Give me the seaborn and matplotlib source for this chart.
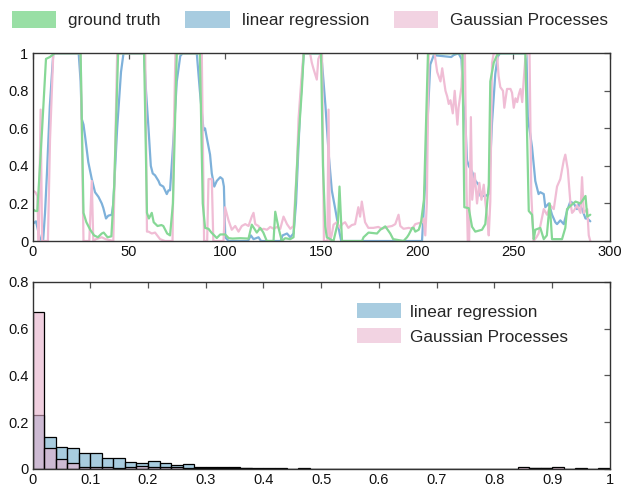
import numpy as np
import seaborn as sns
import matplotlib.pyplot as plt
from matplotlib.patches import Patch
from matplotlib.colors import to_rgba

# ground truth vs. predictions
gt_t = [0, 1.5, 2.5, 5, 7, 9, 11.5, 25, 26.5, 28, 30, 32, 34, 36, 37, 39, 41, 42.5, 44.5,
        58, 59.5, 60.5, 62, 63, 65, 67, 68, 70, 71.5, 73, 75, 87, 88.5, 89.7, 91.5, 93,
        95.8, 97.6, 100.2, 102, 104, 108, 112.3, 114, 116.6, 118.4, 120, 121.8, 125.3,
        126.2, 127.9, 129.6, 131.4, 134, 135.7, 138, 140, 141, 150, 151, 152.2, 153,
        156.5, 157.4, 158.8, 159.6, 160.9, 171.3, 172.1, 174.7, 179.1, 180.8, 183.4, 186,
        187.5, 192.9, 194.7, 195.6, 197.4, 198.1, 199, 200.8, 202, 203.5, 205.6, 223.5,
        224.5, 226.8, 228.5, 230.2, 233.7, 235.4, 237.2, 238, 239.8, 241.5, 243, 256.2,
        258, 259.7, 260.6, 261.4, 264, 265.8, 267.4, 268.9, 270.1, 275.3, 277, 277.9,
        280, 282.3, 284.9, 287.5, 288.4, 290]
gt_v = [0.17, 0.16, 0.16, 0.6, 0.97, 0.98, 1.0, 1.0, 0.15, 0.1, 0.06, 0.03, 0.02, 0.04,
        0.045, 0.02, 0.025, 0.3, 1.0,
        1.0, 0.15, 0.12, 0.15, 0.1, 0.08, 0.085, 0.08, 0.04, 0.03, 0.2, 1.0, 1.0, 0.2,
        0.07, 0.065, 0.045,
        0.016, 0.035, 0.035, 0.015, 0.013, 0.015, 0.013, 0.087, 0.045, 0.07, 0.045, 0.0,
        0.0,
        0.156, 0.07, 0.0, 0.015, 0.01, 0.02, 0.5, 0.8, 1.0, 1.0, 0.4, 0.076, 0.02,
        0.0, 0.04, 0.1, 0.29, 0.0, 0.0, 0.02, 0.045, 0.04, 0.06, 0.078, 0.04,
        0.01, 0.0, 0.02, 0.034, 0.07, 0.07, 0.05, 0.06, 0.1, 0.22, 1.0, 1.0,
        0.18, 0.175, 0.076, 0.05, 0.06, 0.09, 0.3, 0.85, 0.95, 0.99, 1.0, 1.0,
        0.16, 0.14, 0.01, 0.06, 0.07, 0.01, 0.03, 0.2, 0.01, 0.01, 0.07, 0.17,
        0.19, 0.21, 0.2, 0.24, 0.13, 0.14]

lr_t = [0, 1.8, 3, 4, 5.5, 6.5, 7.5, 9, 10.8, 24, 25, 25.6, 26.5, 27.3, 29, 30.8, 32.5,
        34.3, 36, 36.8, 38.2, 39.4, 41.2, 42, 44, 46, 47.3, 58, 59, 60.3, 61.5, 62.5,
        63.7, 65.5, 66.3, 68, 69.8, 70.7, 71.5, 73, 75, 76.8, 78, 85.4, 87, 88.9, 89.7,
        90.6, 92.3, 93.2, 94.5, 95.8, 97.6, 98.8, 99.5, 100.2, 101.9, 112, 113.5, 114.9,
        117.5, 118.8, 129, 130, 132.3, 134, 135.7, 137, 139.2, 141, 149.6, 150.5, 152.3,
        154, 155.6, 157.4, 159.1, 160.5, 202.5, 204.2, 205.2, 206.8, 208.6, 217.7, 218.9,
        221.5, 223, 224.1, 225, 225.9, 226.8, 228.5, 230.3, 232, 232.9, 235.5, 237.2,
        238.9, 240.6, 241.8, 243, 256.8, 257.5, 259.7, 261.4, 263.1, 264, 265.8, 266.6,
        268.4, 270.1, 271.8, 272.7, 274.4, 276.2, 277.9, 279.6, 281.4, 283.1, 284, 285.7,
        287.5, 288.4, 290]
lr_v = [0.09, 0.105, 0.05, 0.01, 0.0, 0.15, 0.36, 0.72, 1.0, 1.0, 0.85, 0.65, 0.62, 0.56,
        0.42, 0.33, 0.26,
        0.235, 0.2, 0.176, 0.12, 0.135, 0.14, 0.2, 0.6, 0.9, 1.0, 1.0, 0.8, 0.6, 0.4, 0.36,
        0.35, 0.32, 0.3, 0.29, 0.25, 0.27, 0.27, 0.5, 0.85, 0.985, 1.0, 1.0, 0.8, 0.59, 0.6,
        0.55, 0.46, 0.36, 0.29, 0.32, 0.34, 0.33, 0.29, 0.02, 0.0, 0.0, 0.03, 0.01,
        0.02, 0.0, 0.0, 0.03, 0.04, 0.02, 0.04, 0.2, 0.72, 1.0, 1.0, 0.95, 0.72,
        0.46, 0.27, 0.17, 0.07, 0.0, 0.0, 0.32, 0.6, 0.94, 0.99, 0.98, 0.99,
        1.0, 0.97, 0.73, 0.64, 0.43, 0.4, 0.37, 0.32, 0.3, 0.24, 0.24, 0.25,
        0.63, 0.89, 0.98, 1.0, 1.0, 0.66, 0.5, 0.32, 0.25, 0.26, 0.25, 0.18,
        0.2, 0.14, 0.1, 0.09, 0.11, 0.09, 0.16, 0.21, 0.2, 0.17, 0.2, 0.17,
        0.12, 0.12, 0.105]

gp_t = [0, 1.5, 2.5, 3.2, 4.2, 5, 8, 9.1, 10.8, 25, 26.5, 29.5, 30.8, 31.6, 33, 36, 38, 42,
        43, 44, 58.6, 59.5, 60.3, 62, 63.7, 66.3, 68.9, 72.8, 73.5, 74.3, 88, 89.2, 90.8,
        91.5, 93.2, 94, 99.3, 100.1, 101.9, 103.6, 105.4, 107.1, 108.8, 110.6, 112.3, 114,
        114.9, 115.8, 117.5, 118.4, 120.2, 121.9, 123.6, 125.4, 127.1, 128.8, 130.5, 132.3,
        134, 135.7, 137.5, 138.3, 139.7, 140.9, 144.3, 145.2, 146, 146.9, 147.8, 148.6,
        149.9, 150.5, 151.5, 153.3, 153.9, 154.6, 155.5, 156.5, 158.2, 159.9, 161, 162.5,
        164.2, 166, 167.7, 169.4, 170.3, 171.2, 172.9, 174.6, 177.2, 179.8, 181.7, 184.3,
        186.9, 188.6, 190.3, 191.2, 192.9, 195.6, 197.4, 199, 200.8, 202.5, 203.3, 204.2,
        205, 206, 209, 210.4, 212.1, 213, 214.7, 215.6, 216.4, 217.3, 218.5, 219.5, 220.2,
        220.9, 221.5, 223, 223.7, 224.8, 225.6, 226.3, 227, 227.9, 228.6, 229.9, 231.1,
        232.3, 233.4, 234.6, 235.5, 236.5, 237.2, 238, 238.9, 239.8, 241.5, 242.3, 243.2,
        244.6, 245.3, 246.7, 248.5, 249.3, 250.2, 251.1, 252, 252.8, 253.7, 254.6, 255.4,
        256.2, 257, 258.4, 259.3, 260.5, 262, 263.1, 264, 265.8, 267.5, 269.2, 271, 272.7,
        274.4, 276.2, 277, 278.3, 279.6, 280.5, 281.4, 283.1, 284.9, 285.7, 286.6, 288.4,
        289.2, 290]
gp_v = [0.27, 0.26, 0.24, 0.0, 0.7, 0.0, 0.0, 0.54, 1.0, 1.0, 0.0, 0.0, 0.32, 0.0, 0.01,
        0.02, 0.01, 0.0,
        0.5, 1.0, 1.0, 0.05, 0.05, 0.04, 0.045, 0.01, 0.0, 0.0, 0.6, 1.0, 1.0, 0.0, 0.0,
        0.33, 0.33, 0.0, 0.0, 0.18, 0.11, 0.06, 0.08, 0.05, 0.08, 0.09, 0.08, 0.13,
        0.15, 0.09, 0.08, 0.06, 0.065, 0.06, 0.075, 0.065, 0.075, 0.065, 0.13, 0.09,
        0.065, 0.08, 0.4, 0.65, 0.85, 1.0, 1.0, 0.95, 0.92, 0.89, 0.86, 0.97,
        1.0, 1.0, 0.0, 0.0, 0.7, 0.0, 0.03, 0.087, 0.1, 0.07, 0.09, 0.1,
        0.07, 0.085, 0.09, 0.18, 0.13, 0.21, 0.1, 0.07, 0.07, 0.075, 0.065, 0.075,
        0.08, 0.09, 0.14, 0.08, 0.065, 0.07, 0.065, 0.09, 0.095, 0.1, 0.12, 0.03,
        0.2, 1.0, 1.0, 0.9, 0.85, 0.92, 0.8, 0.77, 0.73, 0.75, 0.68, 0.8, 0.71,
        0.62, 0.71, 0.82, 0.99, 1.0, 0.3, 0.0, 0.0, 0.66, 0.22, 0.36, 0.2,
        0.31, 0.22, 0.3, 0.2, 0.12, 0.03, 0.21, 0.95, 1.0, 1.0, 0.88, 0.82,
        0.8, 0.71, 0.81, 0.81, 0.79, 0.71, 0.76, 0.74, 0.78, 0.81, 0.74, 0.86,
        0.97, 1.0, 1.0, 0.25, 0.0, 0.02, 0.04, 0.08, 0.17, 0.14, 0.19, 0.17, 0.29,
        0.33, 0.43, 0.46, 0.38, 0.21, 0.15, 0.16, 0.19, 0.15, 0.34, 0.15, 0.17,
        0.03, 0.0]

# error histograms, 50 bins of width 0.02 on [0, 1]
lr_hist = [0.23, 0.138, 0.095, 0.091, 0.067, 0.07, 0.048, 0.046, 0.031, 0.027,
           0.036, 0.027, 0.016, 0.02, 0.007, 0.01, 0.007, 0.007, 0.004, 0.004,
           0.003, 0.003, 0.002, 0.003, 0.002, 0.002, 0.002, 0.001, 0.002, 0.001,
           0.001, 0.001, 0.001, 0.001, 0.001, 0.001, 0.002, 0.001, 0.001, 0.001,
           0.001, 0.001, 0.001, 0.003, 0.003, 0.002, 0.001, 0.002, 0.001, 0.002]
gp_hist = [0.669, 0.091, 0.041, 0.027, 0.01, 0.01, 0.01, 0.003, 0.007, 0.014,
           0.01, 0.01, 0.01, 0.005, 0.004, 0.004, 0.003, 0.003, 0.003, 0.002,
           0.002, 0.001, 0.001, 0.002, 0.001, 0.001, 0.002, 0.001, 0.002, 0.001,
           0.001, 0.001, 0.001, 0.002, 0.001, 0.001, 0.002, 0.002, 0.001, 0.001,
           0.001, 0.001, 0.009, 0.003, 0.004, 0.007, 0.001, 0.003, 0.001, 0.003]

labels = ['ground truth', 'linear regression', 'Gaussian Processes']
line_cols = ['#86d896', '#7eb1da', '#f0bdd5']
patch_cols = ['#99dfa5', '#a8cce0', '#f2d3e2']

sns.set_style('white')
plt.rcParams['font.family'] = ['Liberation Sans', 'DejaVu Sans']
plt.rcParams['xtick.direction'] = 'in'
plt.rcParams['ytick.direction'] = 'in'

fig = plt.figure(figsize=(6.23, 4.87), dpi=100)
ax1 = fig.add_axes([0.0522, 0.5051, 0.9262, 0.3855])
ax2 = fig.add_axes([0.0522, 0.037, 0.9268, 0.3846])

# top: time series
sns.lineplot(x=lr_t, y=lr_v, color=line_cols[1], lw=1.6, ax=ax1)
sns.lineplot(x=gp_t, y=gp_v, color=line_cols[2], lw=1.6, ax=ax1)
sns.lineplot(x=gt_t, y=gt_v, color=line_cols[0], lw=1.6, ax=ax1)
ax1.set_xlim(0, 300)
ax1.set_ylim(0, 1)
ax1.set_xticks(range(0, 301, 50))
ax1.set_yticks([0, 0.2, 0.4, 0.6, 0.8, 1])
ax1.set_yticklabels(['0', '0.2', '0.4', '0.6', '0.8', '1'])

# bottom: error histograms (bar heights given as weights at bin centres)
centers = [0.01 + 0.02 * i for i in range(50)]
sns.histplot(x=centers, weights=lr_hist, binwidth=0.02, binrange=(0, 1), ax=ax2,
             facecolor=to_rgba('#6eaacb', 0.6), edgecolor='black', linewidth=0.9)
sns.histplot(x=centers, weights=gp_hist, binwidth=0.02, binrange=(0, 1), ax=ax2,
             facecolor=to_rgba('#e6afcb', 0.6), edgecolor='black', linewidth=0.9)
ax2.set_xlim(0, 1)
ax2.set_ylim(0, 0.8)
ax2.set_xticks(np.arange(0, 1.01, 0.1))
ax2.set_xticklabels(['0', '0.1', '0.2', '0.3', '0.4', '0.5', '0.6', '0.7', '0.8', '0.9', '1'])
ax2.set_yticks([0, 0.2, 0.4, 0.6, 0.8])
ax2.set_yticklabels(['0', '0.2', '0.4', '0.6', '0.8'])

for ax in (ax1, ax2):
    ax.set_xlabel('')
    ax.set_ylabel('')
    ax.tick_params(top=True, right=True, length=4, width=0.9, color='#555555',
                   labelsize=10.5, labelcolor='#111111', pad=3)
    for s in ax.spines.values():
        s.set_color('#333333')
        s.set_linewidth(1.0)

# legends
handles = [Patch(facecolor=c, edgecolor='none') for c in patch_cols]
fig.legend(handles, labels, loc='center', bbox_to_anchor=(0.4976, 0.96), ncol=3,
           frameon=False, fontsize=12.3, handlelength=2.6, handleheight=1.15,
           handletextpad=0.7, columnspacing=1.45, borderpad=0)
ax2.legend(handles[1:], labels[1:], loc='center left', bbox_to_anchor=(0.562, 0.775),
           frameon=False, fontsize=12.3, handlelength=2.6, handleheight=1.0,
           handletextpad=0.5, labelspacing=0.5, borderpad=0, borderaxespad=0)

fig.savefig('out.png', dpi=100)
